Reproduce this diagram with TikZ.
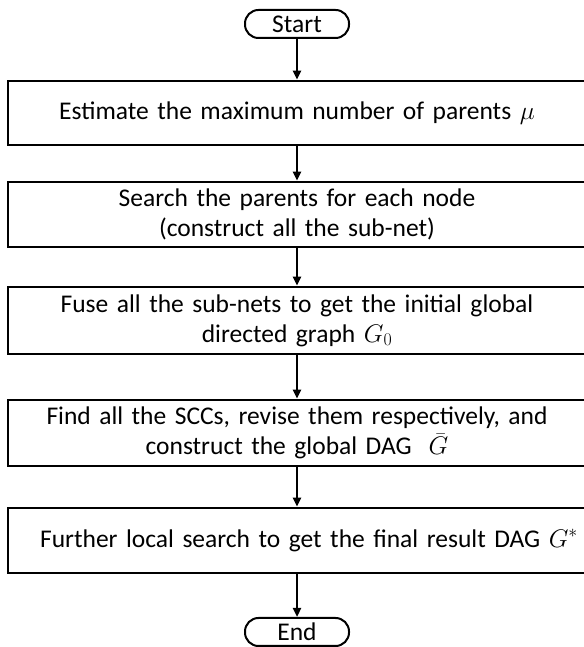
\RequirePackage{fix-cm}
\documentclass[tikz,border=0pt]{standalone}
\usepackage{fontspec}
\setmainfont{Carlito}
\usetikzlibrary{arrows.meta}
\begin{document}
\begin{tikzpicture}[x=1pt,y=1pt,
  every node/.style={font=\fontsize{25.5}{30}\selectfont},
  procbox/.style={draw, line width=2.7pt, minimum width=578pt, inner sep=0pt, align=center, text width=570pt},
  termbox/.style={draw, line width=2pt, rounded corners=13.5pt, minimum width=104pt, minimum height=28pt, inner sep=0pt},
  flow/.style={line width=2.4pt, -{Triangle[length=9pt,width=8pt]}}]
\useasboundingbox (0,0) rectangle (583,647);
\node[termbox] (start) at (297,623) {Start};
\node[procbox, minimum height=64pt] (b1) at (297,534) {Estimate the maximum number of parents $\mu$};
\node[procbox, minimum height=65pt] (b2) at (297,432.5) {Search the parents for each node\\(construct all the sub-net)};
\node[procbox, minimum height=67pt] (b3) at (297,326.5) {Fuse all the sub-nets to get the initial global\\directed graph $G_0$};
\node[procbox, minimum height=66pt] (b4) at (297,214) {Find all the SCCs, revise them respectively, and\\construct the global DAG~ $\bar{G}$};
\node[procbox, minimum height=65pt] (b5) at (297,106.5) {\hspace*{24pt}Further local search to get the final result DAG $G^{*}$};
\node[termbox] (end) at (297,15) {End};
\draw[flow] (start) -- (b1);
\draw[flow] (b1) -- (b2);
\draw[flow] (b2) -- (b3);
\draw[flow] (b3) -- (b4);
\draw[flow] (b4) -- (b5);
\draw[flow] (b5) -- (end);
\end{tikzpicture}
\end{document}
